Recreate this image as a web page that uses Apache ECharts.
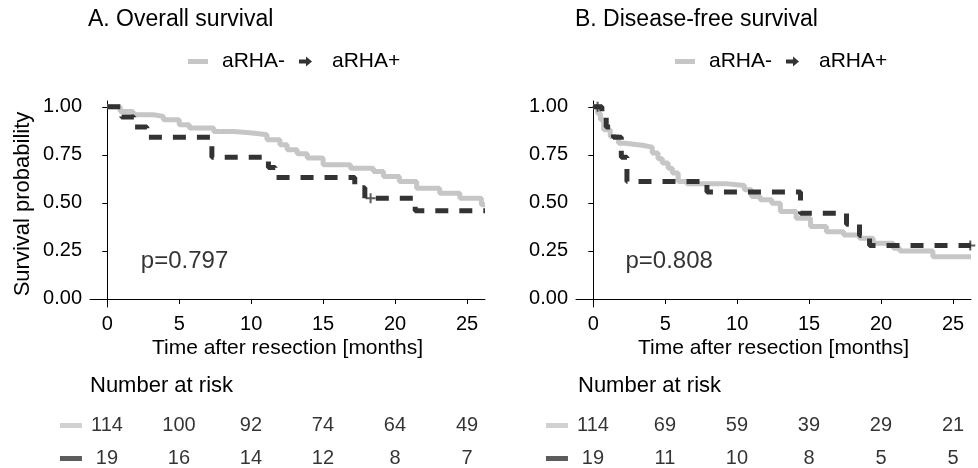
<!DOCTYPE html>
<html>
<head>
<meta charset="utf-8">
<script src="https://cdn.jsdelivr.net/npm/echarts@6/dist/echarts.min.js"></script>
<style>
  html, body { margin: 0; padding: 0; background: #fff; }
  #chart { width: 978px; height: 468px; }
</style>
</head>
<body>
<div id="chart"></div>
<script>
// Kaplan-Meier step points [months, survival]
const osNeg = [[0,1],[0.9,0.976],[1.8,0.958],[3.2,0.95],[3.9,0.932],[5.0,0.906],[5.7,0.889],[7.4,0.871],[8.8,0.863],[10.1,0.854],[11.1,0.828],[12.0,0.802],[12.5,0.776],[13.2,0.755],[13.9,0.733],[15.0,0.698],[16.9,0.68],[18.5,0.663],[19.2,0.637],[20.3,0.611],[21.5,0.576],[23.1,0.55],[24.5,0.524],[26.0,0.49],[26.25,0.49]];
const osPos = [[0,1],[1.0,0.947],[1.85,0.895],[2.75,0.842],[7.27,0.737],[11.2,0.684],[11.67,0.632],[17.2,0.579],[17.9,0.524],[21.4,0.459],[26.25,0.459]];
const dfsNeg = [[0,1],[0.3,0.965],[0.5,0.932],[0.72,0.88],[1.18,0.845],[1.76,0.81],[2.2,0.8],[3.4,0.79],[4.1,0.76],[4.5,0.73],[4.8,0.707],[5.2,0.68],[5.5,0.655],[5.9,0.611],[6.5,0.6],[9.2,0.59],[10.5,0.568],[11.0,0.533],[11.6,0.516],[12.4,0.498],[13.0,0.455],[14.1,0.42],[15.1,0.377],[16.2,0.35],[17.4,0.333],[18.5,0.316],[19.45,0.29],[20.85,0.264],[21.3,0.25],[23.6,0.22],[26.25,0.22]];
const dfsPos = [[0,1],[0.6,0.947],[0.9,0.895],[1.4,0.842],[1.95,0.737],[2.34,0.611],[7.9,0.556],[14.4,0.446],[17.6,0.389],[18.5,0.33],[19.2,0.278],[26.25,0.278]];

// censor marks on the dark curves
const osPosCens = [[18.3,0.524]];
const dfsPosCens = [[0.3,1],[26.2,0.278]];

// number at risk
const riskTimes = [0,5,10,15,20,25];
const osRiskNeg = [114,100,92,74,64,49];
const osRiskPos = [19,16,14,12,8,7];
const dfsRiskNeg = [114,69,59,39,29,21];
const dfsRiskPos = [19,11,10,8,5,5];

const xTicks = [0,5,10,15,20,25];
const yTicks = [0,0.25,0.5,0.75,1];

const GREY = '#c6c6c6';
const DARK = '#333333';
const TXT = '#000000';
const FONT = 'Liberation Sans, Arial, sans-serif';

const plus = 'path://M4,0 L6,0 L6,4 L10,4 L10,6 L6,6 L6,10 L4,10 L4,6 L0,6 L0,4 L4,4 Z';

function plotX(idx) {
  return {
    gridIndex: idx, type: 'value', min: -1.2, max: 26.25,
    axisLine: { lineStyle: { color: '#000', width: 1 } },
    axisTick: { length: 5, customValues: xTicks, lineStyle: { color: '#000' } },
    axisLabel: { customValues: xTicks, margin: 7, fontSize: 20, color: TXT, fontFamily: FONT },
    splitLine: { show: false },
    name: 'Time after resection [months]', nameLocation: 'middle', nameGap: 31,
    nameTextStyle: { fontSize: 21, color: TXT, fontFamily: FONT }
  };
}
function plotY(idx, withName) {
  return {
    gridIndex: idx, type: 'value', min: -0.042, max: 1.03,
    axisLine: { show: true, lineStyle: { color: '#000', width: 1 } },
    axisTick: { show: true, length: 5, customValues: yTicks, lineStyle: { color: '#000' } },
    axisLabel: { customValues: yTicks, margin: 8, fontSize: 20, color: TXT, fontFamily: FONT,
      formatter: v => v.toFixed(2) },
    splitLine: { show: false },
    name: withName ? 'Survival probability' : '', nameLocation: 'middle', nameGap: 56, nameRotate: 90,
    nameTextStyle: { fontSize: 22, color: TXT, fontFamily: FONT }
  };
}
function riskX(idx) {
  return { gridIndex: idx, type: 'value', min: -4.65, max: 26.25, show: false };
}
function riskY(idx) {
  return { gridIndex: idx, type: 'category', data: ['neg', 'pos'], inverse: true, show: false };
}

function curve(name, data, xi, dark) {
  return {
    name: name, type: 'line', xAxisIndex: xi, yAxisIndex: xi, step: 'end',
    data: data, showSymbol: false, symbol: 'none', color: dark ? DARK : GREY,
    lineStyle: { width: 5, color: dark ? DARK : GREY, type: dark ? [13, 11] : 'solid', cap: 'butt' },
    z: dark ? 3 : 2
  };
}
function censor(data, xi) {
  return {
    type: 'scatter', xAxisIndex: xi, yAxisIndex: xi, data: data, symbol: plus,
    symbolSize: 10, itemStyle: { color: DARK }, z: 4, silent: true
  };
}
function pval(text, pt, xi) {
  return {
    type: 'scatter', xAxisIndex: xi, yAxisIndex: xi, data: [pt], symbolSize: 1,
    itemStyle: { color: 'rgba(0,0,0,0)' }, silent: true,
    label: { show: true, position: 'right', distance: 0, formatter: text,
      fontSize: 24, color: TXT, fontFamily: FONT }
  };
}
function riskRow(vals, row, xi) {
  return {
    type: 'scatter', xAxisIndex: xi, yAxisIndex: xi, symbolSize: 1,
    itemStyle: { color: 'rgba(0,0,0,0)' }, silent: true,
    data: riskTimes.map((t, i) => [t, row, vals[i]]),
    label: { show: true, position: 'inside', formatter: p => p.value[2],
      fontSize: 20, color: TXT, fontFamily: FONT }
  };
}
function swatches(xi) {
  return {
    type: 'scatter', xAxisIndex: xi, yAxisIndex: xi, symbol: 'rect', symbolSize: [22, 5],
    silent: true, clip: false,
    data: [
      { value: [-2.5, 0], itemStyle: { color: GREY } },
      { value: [-2.5, 1], itemStyle: { color: DARK } }
    ]
  };
}

const greyIcon = 'path://M0,0 M29,12 M0,3.5 L20,3.5 L20,8.5 L0,8.5 Z';
const darkIcon = 'path://M0,0 M29,12 M1,4 L8,4 L8,1 L14,6 L8,11 L8,8 L1,8 Z';
function legend(left) {
  return {
    left: left, top: 51, padding: 0, itemWidth: 29, itemHeight: 12, itemGap: 13,
    itemStyle: { borderWidth: 0 },
    textStyle: { fontSize: 21, color: TXT, fontFamily: FONT },
    data: [{ name: 'aRHA-', icon: greyIcon }, { name: 'aRHA+', icon: darkIcon }]
  };
}

const chart = echarts.init(document.getElementById('chart'), null, { renderer: 'canvas' });
chart.setOption({
  animation: false,
  backgroundColor: '#fff',
  title: [
    { text: 'A. Overall survival', left: 88, top: 8, padding: 0,
      textStyle: { fontSize: 23, fontWeight: 'normal', color: TXT, fontFamily: FONT } },
    { text: 'B. Disease-free survival', left: 575, top: 8, padding: 0,
      textStyle: { fontSize: 23, fontWeight: 'normal', color: TXT, fontFamily: FONT } },
    { text: 'Number at risk', left: 90, top: 375, padding: 0,
      textStyle: { fontSize: 22, fontWeight: 'normal', color: TXT, fontFamily: FONT } },
    { text: 'Number at risk', left: 578, top: 375, padding: 0,
      textStyle: { fontSize: 22, fontWeight: 'normal', color: TXT, fontFamily: FONT } }
  ],
  legend: [legend(188), legend(675)],
  grid: [
    { left: 90, top: 101, width: 395, height: 206, outerBoundsMode: 'none' },
    { left: 576, top: 101, width: 395, height: 206, outerBoundsMode: 'none' },
    { left: 40, top: 409, width: 445, height: 66, outerBoundsMode: 'none' },
    { left: 526, top: 409, width: 445, height: 66, outerBoundsMode: 'none' }
  ],
  xAxis: [plotX(0), plotX(1), riskX(2), riskX(3)],
  yAxis: [plotY(0, true), plotY(1, false), riskY(2), riskY(3)],
  series: [
    curve('aRHA-', osNeg, 0, false),
    curve('aRHA+', osPos, 0, true),
    censor(osPosCens, 0),
    curve('aRHA-', dfsNeg, 1, false),
    curve('aRHA+', dfsPos, 1, true),
    censor(dfsPosCens, 1),
    pval('p=0.797', [2.3, 0.193], 0),
    pval('p=0.808', [2.2, 0.198], 1),
    riskRow(osRiskNeg, 0, 2), riskRow(osRiskPos, 1, 2), swatches(2),
    riskRow(dfsRiskNeg, 0, 3), riskRow(dfsRiskPos, 1, 3), swatches(3)
  ]
});
window.addEventListener('resize', () => chart.resize());
</script>
</body>
</html>
